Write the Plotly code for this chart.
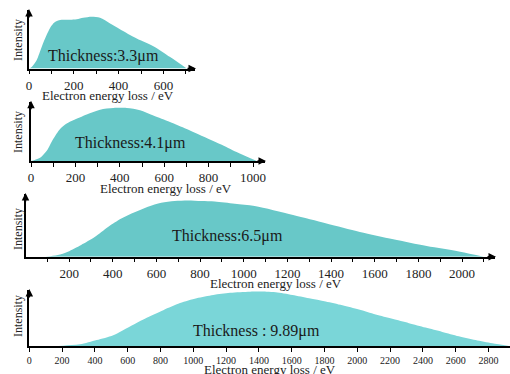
import plotly.graph_objects as go

# ---- data (intensity normalised to peak = 1) ----
ev_33 = [0, 12, 34, 57, 79, 101, 116, 146, 183, 213, 242, 280, 317, 362, 406, 481, 555, 630, 704]
int_33 = [0, 0.03, 0.16, 0.42, 0.65, 0.83, 0.90, 0.94, 0.94, 0.95, 0.98, 1.0, 0.98, 0.87, 0.76, 0.58, 0.43, 0.22, 0]

ev_41 = [0, 10, 41, 71, 100, 131, 161, 190, 251, 311, 371, 431, 491, 551, 626, 701, 776, 851, 926, 1017]
int_41 = [0, 0.01, 0.06, 0.19, 0.41, 0.60, 0.70, 0.76, 0.87, 0.96, 0.99, 0.99, 0.95, 0.85, 0.73, 0.60, 0.46, 0.32, 0.17, 0]

ev_65 = [0, 102, 148, 194, 255, 317, 378, 439, 500, 561, 622, 683, 744, 806, 867, 959, 1050,
         1226, 1379, 1532, 1685, 1838, 1991, 2100]
int_65 = [0, 0.005, 0.03, 0.09, 0.21, 0.35, 0.53, 0.68, 0.79, 0.89, 0.96, 0.99, 1.0, 0.99, 0.98, 0.94, 0.90,
          0.74, 0.59, 0.44, 0.31, 0.19, 0.09, 0]

ev_989 = [0, 207, 309, 411, 512, 614, 716, 817, 919, 1020, 1122, 1224, 1346, 1447, 1503, 1604, 1706, 1807,
          1909, 2010, 2112, 2213, 2315, 2416, 2518, 2619, 2721, 2823, 2924]
int_989 = [0, 0.006, 0.03, 0.11, 0.20, 0.36, 0.52, 0.66, 0.79, 0.88, 0.94, 0.98, 1.0, 1.0, 0.99, 0.94, 0.88, 0.82,
           0.75, 0.67, 0.58, 0.50, 0.42, 0.34, 0.26, 0.18, 0.11, 0.05, 0]

label_text = ["Thickness:3.3\u03bcm", "Thickness:4.1\u03bcm", "Thickness:6.5\u03bcm", "Thickness : 9.89\u03bcm"]

ticks_1 = [0, 100, 200, 300, 400, 500, 600, 700]
ticktext_1 = ["0", "", "200", "", "400", "", "600", ""]
ticks_2 = [0, 100, 200, 300, 400, 500, 600, 700, 800, 900, 1000]
ticktext_2 = ["0", "", "200", "", "400", "", "600", "", "800", "", "1000"]
ticks_3 = list(range(100, 2101, 100))
ticktext_3 = [str(v) if v % 200 == 0 else "" for v in ticks_3]
ticks_4 = list(range(0, 2801, 200))
ticktext_4 = [str(v) for v in ticks_4]

W, H = 510, 374
FONT = "Liberation Serif, Times New Roman, serif"

def px(x):
    return x / W

def py(y):
    return 1 - y / H

geo = [
    dict(x0=29, x1=195, base=68.5, peak=16.7, top=10, xmax=741, tick=ticks_1, tt=ticktext_1, ev=ev_33, it=int_33,
         color="#68c8c8", tfs=13, title_xy=(108, 95), lab_xy=(103, 56), int_y=40, arrow_x=True),
    dict(x0=31, x1=265, base=161, peak=107.5, top=101.7, xmax=1054, tick=ticks_2, tt=ticktext_2, ev=ev_41, it=int_41,
         color="#68c8c8", tfs=13, title_xy=(166, 188), lab_xy=(130, 143), int_y=132, arrow_x=True),
    dict(x0=25.5, x1=495, base=256.7, peak=200.5, top=194, xmax=2151, tick=ticks_3, tt=ticktext_3, ev=ev_65, it=int_65,
         color="#68c8c8", tfs=13, title_xy=(276, 283), lab_xy=(227, 236), int_y=229, arrow_x=True),
    dict(x0=29.3, x1=510, base=346, peak=291.7, top=290, xmax=2931, tick=ticks_4, tt=ticktext_4, ev=ev_989, it=int_989,
         color="#7ad6d8", tfs=10, title_xy=(270, 369), lab_xy=(256, 331), int_y=316, arrow_x=False),
]

fig = go.Figure()
annotations = []
layout = dict(width=W, height=H, margin=dict(l=0, r=0, t=0, b=0, autoexpand=False),
              paper_bgcolor="white", plot_bgcolor="white", showlegend=False)

for i, g in enumerate(geo, start=1):
    xa = "x" if i == 1 else f"x{i}"
    ya = "y" if i == 1 else f"y{i}"
    fig.add_trace(go.Scatter(x=g["ev"], y=g["it"], xaxis=xa, yaxis=ya, mode="lines",
                             line=dict(width=0, shape="spline", smoothing=0.8, color=g["color"]),
                             fill="tozeroy", fillcolor=g["color"], hoverinfo="skip"))
    height1 = g["base"] - g["peak"]
    ymax = (g["base"] - g["top"]) / height1
    layout["xaxis" if i == 1 else f"xaxis{i}"] = dict(
        domain=[px(g["x0"]), px(g["x1"])], anchor=ya, range=[0, g["xmax"]],
        showline=True, linecolor="black", linewidth=1.5, mirror=False,
        ticks="outside", ticklen=4, tickwidth=1, tickcolor="black",
        tickvals=g["tick"], ticktext=g["tt"],
        tickfont=dict(family=FONT, size=g["tfs"], color="#222"),
        showgrid=False, zeroline=False, fixedrange=True, automargin=False)
    layout["yaxis" if i == 1 else f"yaxis{i}"] = dict(
        domain=[py(g["base"]), py(g["top"])], anchor=xa, range=[0, ymax],
        showline=True, linecolor="black", linewidth=1.5, ticks="", showticklabels=False,
        showgrid=False, zeroline=False, fixedrange=True, automargin=False)
    annotations.append(dict(xref="paper", yref="paper", x=px(g["x0"]), y=py(g["top"] - 1),
                            ax=0, ay=10, text="", showarrow=True, arrowhead=2, arrowsize=1,
                            arrowwidth=1.5, arrowcolor="black"))
    if g["arrow_x"]:
        annotations.append(dict(xref="paper", yref="paper", x=px(g["x1"] + 1), y=py(g["base"]),
                                ax=-10, ay=0, text="", showarrow=True, arrowhead=2, arrowsize=1,
                                arrowwidth=1.5, arrowcolor="black"))
    annotations.append(dict(xref="paper", yref="paper", x=px(g["title_xy"][0]), y=py(g["title_xy"][1]),
                            text="Electron energy loss / eV", showarrow=False, xanchor="center", yanchor="middle",
                            font=dict(family=FONT, size=13, color="#222")))
    annotations.append(dict(xref="paper", yref="paper", x=px(g["lab_xy"][0]), y=py(g["lab_xy"][1]),
                            text=label_text[i - 1], showarrow=False, xanchor="center", yanchor="middle",
                            font=dict(family=FONT, size=16, color="#1a1a1a")))
    annotations.append(dict(xref="paper", yref="paper", x=px(18), y=py(g["int_y"]),
                            text="Intensity", textangle=-90, showarrow=False, xanchor="center", yanchor="middle",
                            font=dict(family=FONT, size=12, color="#222")))

layout["annotations"] = annotations
fig.update_layout(**layout)
fig.write_html("out.html", config={"displayModeBar": False},
               post_script="document.body.style.margin='0';document.body.style.overflow='hidden';")
